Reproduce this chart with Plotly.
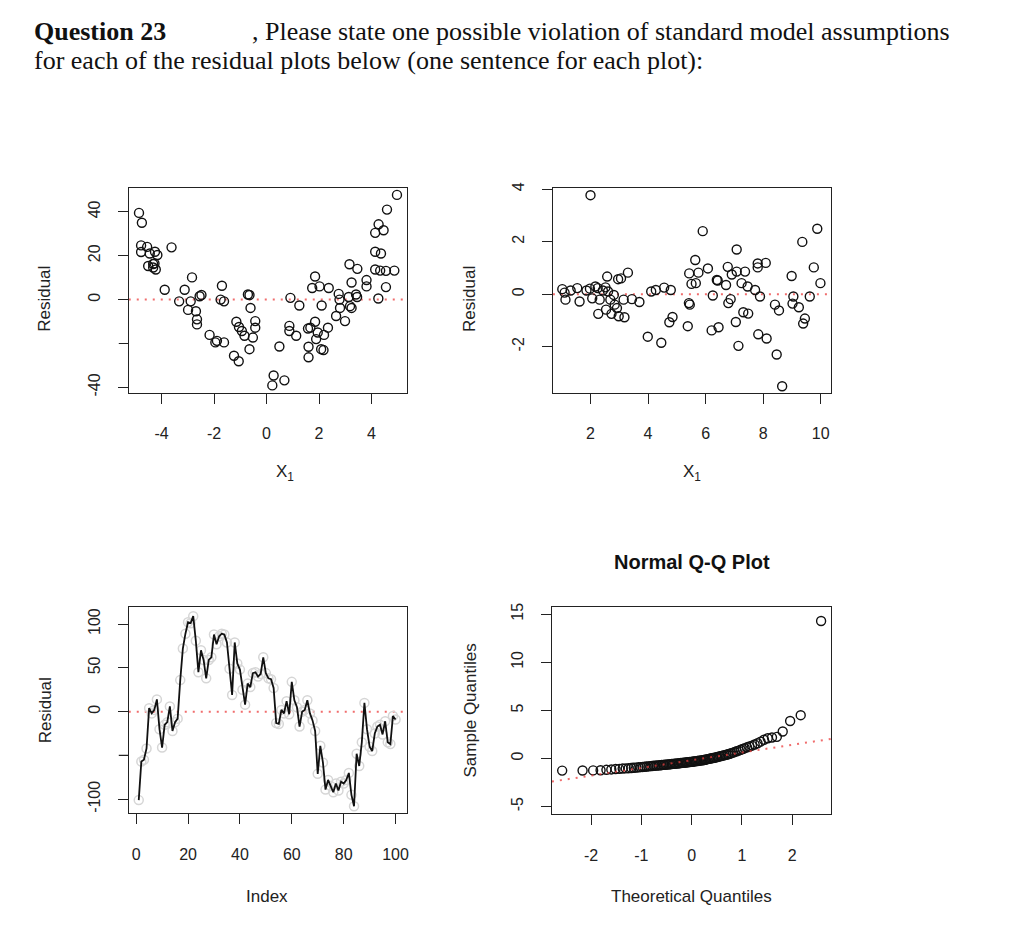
import plotly.graph_objects as go
from statistics import NormalDist
import numpy as np

# ---------------- data ----------------
# Panel 1: residual vs X1 (curved pattern)
p1_x = [-4.86, -4.75, -4.78, -4.78, -4.55, -4.45, -4.25, -4.16, -4.51, -4.32, -4.32, -4.22, -4.27,
        -3.62, -3.88, -3.33, -3.12, -2.99, -2.89, -2.84, -2.69, -2.65, -2.65, -2.55, -2.48, -2.17,
        -1.95, -1.89, -1.62, -1.70, -1.75, -1.62, -1.15, -1.05, -0.94, -0.84, -1.24, -1.06, -0.71,
        -0.65, -0.61, -0.52, -0.65, -0.43, -0.43, 0.27, 0.22, 0.68, 0.49, 0.91, 1.25, 0.87, 0.87,
        1.13, 1.58, 1.67, 1.60, 1.60, 1.85, 1.74, 2.02, 2.37, 2.10, 1.85, 1.95, 1.89, 2.19, 2.34,
        2.08, 2.17, 2.75, 2.78, 2.65, 2.80, 2.99, 3.13, 3.18, 3.24, 3.16, 3.46, 3.24, 3.41, 3.45,
        3.81, 3.81, 4.14, 4.27, 4.46, 4.14, 4.36, 4.14, 4.33, 4.55, 4.87, 4.55, 4.26, 4.59, 4.97]
p1_res = [39.5, 35.0, 24.7, 21.7, 24.0, 21.0, 21.8, 20.3, 15.3, 16.2, 14.6, 13.7, 16.5,
          23.8, 4.5, -0.8, 4.5, -4.7, -0.8, 10.1, -5.3, -9.0, -11.3, 1.5, 2.1, -16.1,
          -19.5, -18.8, -19.5, 6.3, 0.0, -0.8, -10.1, -12.5, -14.3, -16.5, -25.6, -28.1, 2.3,
          2.1, -3.8, -17.3, -22.6, -9.8, -12.8, -34.6, -39.1, -36.8, -21.4, 0.8, -2.7, -12.0, -14.3,
          -16.5, -13.2, -12.8, -21.5, -26.3, 10.5, 5.3, 6.0, 5.3, -2.7, -10.1, -15.0, -18.0, -16.1, -12.8,
          -22.6, -23.0, 2.6, 0.0, -7.5, -3.8, -9.8, 1.2, -3.0, -3.8, 16.1, 14.0, 7.8, 2.3, 1.2,
          8.9, 6.0, 30.4, 34.3, 31.6, 21.8, 21.0, 13.7, 13.2, 13.1, 13.2, 5.7, 0.5, 41.0, 47.7]

# Panel 2: residual vs X1 (fanning pattern)
p2_x = [2.00, 1.02, 1.13, 1.10, 1.31, 1.54, 1.62, 1.86, 1.98, 2.06, 2.17, 2.25, 2.32, 2.27, 2.43,
        2.52, 2.58, 2.61, 2.69, 2.54, 2.73, 2.81, 2.84, 2.92, 2.98, 2.96, 3.06, 3.15, 3.18, 3.30,
        3.44, 3.70, 4.11, 4.27, 4.56, 4.79, 3.99, 4.46, 4.74, 4.85, 5.38, 5.42, 5.45, 5.43, 5.51,
        5.66, 5.64, 5.75, 5.90, 6.08, 6.21, 6.25, 6.45, 6.39, 6.42, 6.71, 6.77, 6.79, 6.87, 6.91,
        7.08, 7.08, 7.05, 7.14, 7.25, 7.31, 7.37, 7.46, 7.48, 7.72, 7.81, 7.81, 7.89, 7.83, 8.09,
        8.12, 8.41, 8.55, 8.47, 8.66, 8.99, 9.02, 9.05, 9.24, 9.36, 9.39, 9.45, 9.62, 9.76, 9.88, 9.99]
p2_res = [3.77, 0.19, -0.21, 0.06, 0.14, 0.23, -0.28, 0.14, 0.21, -0.16, 0.29, 0.23, -0.21, -0.75, 0.14,
          0.26, 0.67, 0.10, -0.21, -0.59, -0.75, -0.03, -0.40, -0.53, -0.84, 0.57, 0.60, -0.21, -0.88, 0.82,
          -0.19, -0.30, 0.10, 0.16, 0.25, 0.16, -1.62, -1.85, -1.07, -0.87, -1.22, -0.34, -0.40, 0.79, 0.39,
          0.42, 1.30, 0.82, 2.40, 0.98, -1.38, -0.05, -1.26, 0.54, 0.52, 0.35, 1.04, -0.34, -0.19, 0.75,
          0.86, 1.70, -1.06, -1.97, 0.42, -0.69, 0.86, 0.29, -0.74, 0.16, 1.17, 1.02, -0.09, -1.53, 1.19,
          -1.69, -0.40, -0.62, -2.30, -3.51, 0.69, -0.36, -0.09, -0.50, 1.99, -1.12, -0.93, -0.09, 1.02, 2.49, 0.42]

# Panel 3: residual vs index (autocorrelated)
p3_res = [-101, -57, -55, -42, 4, -2, 2, 14, -20, -41,
          -15, -12, 6, -22, -12, -8, 36, 72, 89, 102,
          101, 109, 81, 45, 70, 59, 38, 59, 62, 88,
          77, 86, 89, 88, 79, 49, 19, 79, 55, 48,
          25, 8, 32, 28, 44, 45, 40, 43, 62, 44,
          38, 37, 27, -13, -14, 2, -2, 12, -3, 34,
          13, 5, -17, 0, 2, 13, -2, -10, -22, -71,
          -39, -58, -89, -78, -85, -92, -82, -90, -80, -82,
          -78, -70, -95, -108, -48, -62, -35, 10, -20, -40,
          -45, -25, -17, -15, -26, -11, -35, -37, -5, -9]

# Panel 4: sorted sample quantiles (right-skewed)
p4_sample = [-1.26, -1.25, -1.24, -1.22, -1.18, -1.14, -1.10, -1.08, -1.05, -1.03,
             -1.01, -0.99, -0.97, -0.95, -0.92, -0.90, -0.88, -0.86, -0.84, -0.82,
             -0.80, -0.78, -0.76, -0.745, -0.73, -0.715, -0.70, -0.685, -0.67, -0.655,
             -0.64, -0.625, -0.61, -0.595, -0.58, -0.565, -0.55, -0.535, -0.52, -0.505,
             -0.49, -0.475, -0.46, -0.445, -0.43, -0.415, -0.40, -0.385, -0.37, -0.355,
             -0.34, -0.32, -0.30, -0.28, -0.26, -0.24, -0.22, -0.20, -0.18, -0.16,
             -0.13, -0.10, -0.07, -0.04, -0.01, 0.02, 0.05, 0.08, 0.11, 0.15,
             0.19, 0.23, 0.27, 0.31, 0.35, 0.39, 0.44, 0.49, 0.55, 0.61,
             0.68, 0.75, 0.82, 0.90, 0.98, 1.07, 1.16, 1.25, 1.34, 1.45,
             1.58, 1.75, 1.95, 2.10, 2.18, 2.25, 2.80, 3.90, 4.50, 14.30]

# ---------------- layout helpers ----------------
OX, OY = 8, 8            # page body margin offset
W, H = 1008, 925         # figure size inside the page
FONT = "Liberation Sans"
INK = "#222222"
RED = "rgba(235,60,60,0.75)"


def xd(a, b):
    return [(a - OX) / W, (b - OX) / W]


def yd(top, bottom):
    return [1 - (bottom - OY) / H, 1 - (top - OY) / H]


def axis(domain, rng, tickvals, ticktext, angle=0, standoff=8, anchor=None):
    d = dict(domain=domain, range=rng, showgrid=False, zeroline=False,
             showline=True, mirror=True, linecolor=INK, linewidth=1.3,
             ticks="outside", ticklen=10, tickwidth=1.2, tickcolor=INK,
             tickmode="array", tickvals=tickvals, ticktext=ticktext,
             tickfont=dict(family=FONT, size=16, color=INK), tickangle=angle,
             ticklabelstandoff=standoff, fixedrange=True)
    if anchor:
        d["anchor"] = anchor
    return d


fig = go.Figure()

circ = dict(symbol="circle-open", size=9, line=dict(width=1.4, color="#111111"), color="#111111")

# Panel 1
fig.add_trace(go.Scatter(x=p1_x, y=p1_res, mode="markers", marker=circ, xaxis="x", yaxis="y"))
# Panel 2
fig.add_trace(go.Scatter(x=p2_x, y=p2_res, mode="markers", marker=circ, xaxis="x2", yaxis="y2"))
# Panel 3
idx = list(range(1, len(p3_res) + 1))
fig.add_trace(go.Scatter(x=idx, y=p3_res, mode="markers",
                         marker=dict(symbol="circle-open", size=9, color="#d6d6d6",
                                     line=dict(width=1.5, color="#d6d6d6")),
                         xaxis="x3", yaxis="y3"))
fig.add_trace(go.Scatter(x=idx, y=p3_res, mode="lines", line=dict(color="#111111", width=1.8),
                         xaxis="x3", yaxis="y3"))
# Panel 4 (Normal Q-Q)
n = len(p4_sample)
nd = NormalDist()
theo = [nd.inv_cdf((i - 0.5) / n) for i in range(1, n + 1)]
fig.add_trace(go.Scatter(x=theo, y=p4_sample, mode="markers", marker=circ, xaxis="x4", yaxis="y4"))
q1s, q3s = np.quantile(p4_sample, [0.25, 0.75])
q1t, q3t = nd.inv_cdf(0.25), nd.inv_cdf(0.75)
slope = (q3s - q1s) / (q3t - q1t)
inter = q1s - slope * q1t
x4_rng = [-2.78, 2.78]
fig.add_trace(go.Scatter(x=x4_rng, y=[inter + slope * v for v in x4_rng], mode="lines",
                         line=dict(color=RED, width=2, dash="2px,6px"), xaxis="x4", yaxis="y4"))

# zero reference lines
for ax_id in ["", "2", "3"]:
    fig.add_shape(type="line", xref=f"x{ax_id} domain", x0=0, x1=1, yref=f"y{ax_id}", y0=0, y1=0,
                  line=dict(color=RED, width=2, dash="2px,6px"), layer="below")

# unlabeled ticks (R dropped their labels)
for ax_id, yv in [("", -20), ("3", -50)]:
    fig.add_shape(type="line", xref=f"x{ax_id} domain", x0=-10 / 279, x1=0, yref=f"y{ax_id}",
                  y0=yv, y1=yv, line=dict(color=INK, width=1.2))

XS, YS = 16, 11
fig.update_layout(
    width=W, height=H, margin=dict(l=0, r=0, t=0, b=0),
    paper_bgcolor="white", plot_bgcolor="white", showlegend=False,
    xaxis=axis(xd(129, 408), [-5.25, 5.36], [-4, -2, 0, 2, 4], ["-4", "-2", "0", "2", "4"],
               standoff=XS, anchor="y"),
    yaxis=axis(yd(184, 391), [-42.5, 50.8], [-40, 0, 20, 40], ["-40", "0", "20", "40"],
               angle=-90, standoff=YS, anchor="x"),
    xaxis2=axis(xd(554, 833), [0.694, 10.37], [2, 4, 6, 8, 10], ["2", "4", "6", "8", "10"],
                standoff=XS, anchor="y2"),
    yaxis2=axis(yd(184, 391), [-3.76, 4.04], [-2, 0, 2, 4], ["-2", "0", "2", "4"],
                angle=-90, standoff=YS, anchor="x2"),
    xaxis3=axis(xd(129, 408), [-2.85, 104.5], [0, 20, 40, 60, 80, 100],
                ["0", "20", "40", "60", "80", "100"], standoff=XS, anchor="y3"),
    yaxis3=axis(yd(607, 816), [-116, 120], [-100, 0, 50, 100], ["-100", "0", "50", "100"],
                angle=-90, standoff=YS, anchor="x3"),
    xaxis4=axis(xd(553, 833), x4_rng, [-2, -1, 0, 1, 2], ["-2", "-1", "0", "1", "2"],
                standoff=XS, anchor="y4"),
    yaxis4=axis(yd(607, 817), [-5.8, 15.8], [-5, 0, 5, 10, 15], ["-5", "0", "5", "10", "15"],
                angle=-90, standoff=YS, anchor="x4"),
)


def note(text, x, y, size=17, angle=0, anchor="center", family=FONT, color=INK, yanchor="middle"):
    fig.add_annotation(text=text, x=(x - OX) / W, y=1 - (y - OY) / H, xref="paper", yref="paper",
                       showarrow=False, textangle=angle, xanchor=anchor, yanchor=yanchor,
                       font=dict(family=family, size=size, color=color))


# header text
SERIF = "Liberation Serif"
note("<b>Question 23</b>", 32, 26, size=26, anchor="left", family=SERIF, color="#111")
note(", Please state one possible violation of standard model assumptions", 250, 26, size=26,
     anchor="left", family=SERIF, color="#111")
note("for each of the residual plots below (one sentence for each plot):", 32, 55, size=26,
     anchor="left", family=SERIF, color="#111")

# axis titles
note("Residual", 45, 296, angle=-90)
note("Residual", 471, 296, angle=-90)
note("Residual", 45, 712, angle=-90)
note("Sample Quantiles", 471, 712, angle=-90)
note("X<sub>1</sub>", 286, 472)
note("X<sub>1</sub>", 693, 472)
note("Index", 268, 900)
note("Theoretical Quantiles", 693, 900)
note("<b>Normal Q-Q Plot</b>", 693, 562, size=20, color="#111")

fig.write_html("out.html")
